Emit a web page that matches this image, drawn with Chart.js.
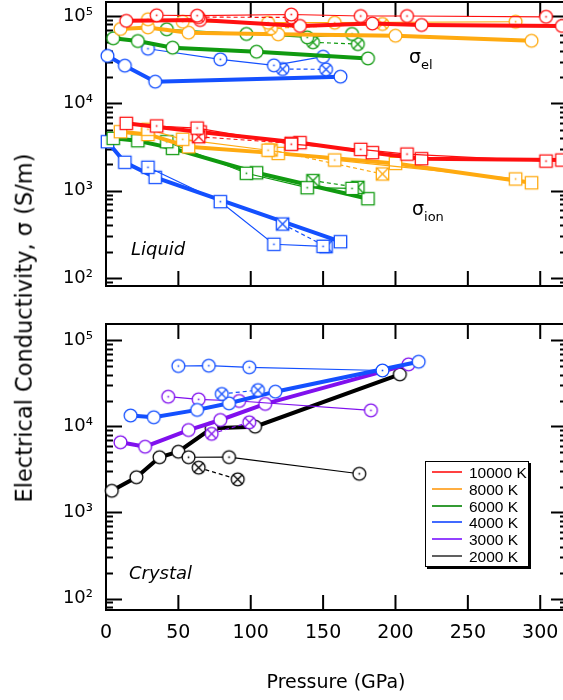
<!DOCTYPE html>
<html lang="en">
<head>
<meta charset="UTF-8" />
<title>Electrical Conductivity vs Pressure</title>
<script src="https://cdn.jsdelivr.net/npm/chart.js"></script>
<style>
  html, body { margin: 0; padding: 0; background: #fff; overflow: hidden; }
  body { width: 563px; height: 700px; position: relative; font-family: "DejaVu Sans", sans-serif; color: #000; }
  canvas { position: absolute; left: 0; }
  #liquidChart { top: 0; }
  #crystalChart { top: 300px; }
  .txt { position: absolute; white-space: nowrap; line-height: 1; }
  .sub { position: relative; top: 5.5px; font-size: 13px; }
  #ytitle { left: 24px; top: 328px; font-size: 22.5px; transform: translate(-50%, -50%) rotate(-90deg); }
  #xtitle { left: 336px; top: 672px; font-size: 19px; transform: translateX(-50%); }
  .panel { font-size: 18px; font-style: italic; }
  #legend { position: absolute; left: 425px; top: 461px; width: 102px; height: 104px; border: 1.5px solid #000; box-shadow: 2px 2px 0 #000; background: #fff; }
  #legend .row { position: absolute; left: 0; width: 100%; height: 16px; line-height: 16px; font: 15.5px "Liberation Sans", sans-serif; white-space: nowrap; }
  #legend .row i { position: absolute; left: 6px; top: 7px; width: 30px; height: 2px; opacity: 0.85; }
  #legend .row span { position: absolute; left: 43px; }
</style>
</head>
<body>

<canvas id="liquidChart" width="575" height="300"></canvas>
<canvas id="crystalChart" width="575" height="400"></canvas>

<div class="txt" id="ytitle">Electrical Conductivity, σ (S/m)</div>
<div class="txt" id="xtitle">Pressure (GPa)</div>
<div class="txt panel" style="left:131px; top:239.5px;">Liquid</div>
<div class="txt panel" style="left:129px; top:564px;">Crystal</div>
<div class="txt" style="left:409px; top:47px; font-size:19px;">σ<span class="sub">el</span></div>
<div class="txt" style="left:412px; top:199px; font-size:19px;">σ<span class="sub">ion</span></div>
<div id="legend"></div>

<script>
// axis ticks
const pressureTicks = [0, 50, 100, 150, 200, 250, 300];
const decadeTicks = [100, 1000, 10000, 100000];
const minorSteps = [2, 3, 4, 5, 6, 7, 8, 9];

const temps = ['10000 K', '8000 K', '6000 K', '4000 K', '3000 K', '2000 K'];
const tempColors = ['#ff1010', '#ffaa10', '#109a10', '#1450ff', '#8010ee', '#000000'];
const legendColors = ['#ff2020', '#ffa020', '#108a10', '#2050ff', '#8020ff', '#444444'];

// ---- liquid: electronic (el) and ionic (ion) conductivity, S/m ----
// 10000 K
const liq10kThickP = [14, 65, 134, 184, 218, 315];
const liq10kThickEl = [88000, 90000, 77000, 82000, 79000, 77000];
const liq10kThickIon = [5900, 4700, 3540, 2720, 2320, 2240];
const liq10kThinP = [35, 63, 128, 176, 208, 304];
const liq10kThinEl = [102000, 101000, 104000, 100000, 100000, 98000];
const liq10kThinIon = [5500, 5200, 3400, 2970, 2620, 2180];
const liq10kDashP = [64, 128];
const liq10kDashEl = [97000, 96500];
const liq10kDashIon = [4140, 3480];
// 8000 K
const liq8kThickP = [10, 29, 57, 119, 200, 294];
const liq8kThickEl = [71000, 74000, 64500, 61700, 59500, 52000];
const liq8kThickIon = [4730, 4400, 3180, 2670, 2050, 1230];
const liq8kThinP = [29, 53, 112, 158, 283];
const liq8kThinEl = [91700, 86000, 83800, 83800, 86000];
const liq8kThinIon = [5040, 3870, 2900, 2240, 1360];
const liq8kDashP = [114, 191];
const liq8kDashEl = [72300, 81000];
const liq8kDashIon = [2920, 1550];
// 6000 K
const liq6kThickP = [5, 22, 46, 104, 181];
const liq6kThickEl = [55600, 51700, 43400, 39000, 32700];
const liq6kThickIon = [3970, 3730, 3050, 1600, 807];
const liq6kThinP = [42, 97, 139, 170];
const liq6kThinEl = [70500, 62300, 57000, 62300];
const liq6kThinIon = [3630, 1580, 1080, 1060];
const liq6kDashP = [143, 174];
const liq6kDashEl = [50000, 47700];
const liq6kDashIon = [1300, 1090];
// 4000 K
const liq4kThickP = [1, 13, 34, 162];
const liq4kThickEl = [35000, 27000, 17700, 20200];
const liq4kThickIon = [3630, 2110, 1420, 260];
const liq4kThinP = [29, 79, 116, 150];
const liq4kThinEl = [42200, 31900, 27200, 34200];
const liq4kThinIon = [1850, 747, 243, 230];
const liq4kDashP = [122, 152];
const liq4kDashEl = [24700, 24500];
const liq4kDashIon = [414, 228];

// ---- crystal: total conductivity, S/m ----
const cry4kThickP = [17, 33, 63, 85, 117, 216];
const cry4kThick = [13400, 12800, 15600, 18600, 25400, 56600];
const cry4kThinP = [50, 71, 99, 191];
const cry4kThin = [50500, 50900, 48800, 44800];
const cry4kDashP = [80, 105];
const cry4kDash = [23900, 26500];
const cry3kThickP = [10, 27, 57, 79, 110, 209];
const cry3kThick = [6550, 5820, 9100, 11900, 18300, 52800];
const cry3kThinP = [43, 64, 92, 183];
const cry3kThin = [22200, 20700, 19800, 15400];
const cry3kDashP = [73, 99];
const cry3kDash = [8220, 11200];
const cry2kThickP = [4, 21, 37, 50, 73, 103, 203];
const cry2kThick = [1790, 2570, 4390, 5090, 9520, 9950, 40400];
const cry2kThinP = [57, 85, 175];
const cry2kThin = [4390, 4400, 2820];
const cry2kDashP = [64, 91];
const cry2kDash = [3320, 2430];

const supDigits = { 2: '\u00b2', 3: '\u00b3', 4: '\u2074', 5: '\u2075' };

// open markers: plain (thick runs), centre dot (thin runs), cross (dashed runs)
function makeMarker(shape, color, kind) {
  const s = 17, c = s / 2;
  const cv = document.createElement('canvas');
  cv.width = s; cv.height = s;
  const g = cv.getContext('2d');
  g.lineWidth = 1.3;
  g.strokeStyle = color;
  g.fillStyle = '#fff';
  g.beginPath();
  if (shape === 'circle') g.arc(c, c, 6.4, 0, Math.PI * 2);
  else g.rect(c - 6.2, c - 6.2, 12.4, 12.4);
  g.fill();
  g.stroke();
  if (kind === 'thin') {
    g.fillStyle = color;
    g.fillRect(c - 0.8, c - 0.8, 1.6, 1.6);
  }
  if (kind === 'dash') {
    const r = shape === 'circle' ? 4.5 : 6.2;
    g.beginPath();
    g.moveTo(c - r, c - r); g.lineTo(c + r, c + r);
    g.moveTo(c + r, c - r); g.lineTo(c - r, c + r);
    g.stroke();
  }
  return cv;
}

function series(xs, ys, tempIdx, kind, shape) {
  const color = tempColors[tempIdx];
  return {
    label: temps[tempIdx],
    data: xs.map((x, i) => ({ x: x, y: ys[i] })),
    borderColor: color,
    borderWidth: kind === 'thick' ? 4 : 1.2,
    borderDash: kind === 'dash' ? [4, 3] : [],
    pointStyle: makeMarker(shape, color, kind),
    pointRadius: 7,
    pointHoverRadius: 7,
    tension: 0,
    fill: false,
    clip: false
  };
}

const liquidRuns = [
  [0, 'thin', liq10kThinP, liq10kThinEl, liq10kThinIon],
  [0, 'dash', liq10kDashP, liq10kDashEl, liq10kDashIon],
  [0, 'thick', liq10kThickP, liq10kThickEl, liq10kThickIon],
  [1, 'thin', liq8kThinP, liq8kThinEl, liq8kThinIon],
  [1, 'dash', liq8kDashP, liq8kDashEl, liq8kDashIon],
  [1, 'thick', liq8kThickP, liq8kThickEl, liq8kThickIon],
  [2, 'thin', liq6kThinP, liq6kThinEl, liq6kThinIon],
  [2, 'dash', liq6kDashP, liq6kDashEl, liq6kDashIon],
  [2, 'thick', liq6kThickP, liq6kThickEl, liq6kThickIon],
  [3, 'thin', liq4kThinP, liq4kThinEl, liq4kThinIon],
  [3, 'dash', liq4kDashP, liq4kDashEl, liq4kDashIon],
  [3, 'thick', liq4kThickP, liq4kThickEl, liq4kThickIon]
];
const liquidSets = [];
liquidRuns.forEach(([t, kind, p, el, ion]) => {
  liquidSets.push(series(p, el, t, kind, 'circle'));
  liquidSets.push(series(p, ion, t, kind, 'square'));
});

const crystalSets = [
  series(cry4kThinP, cry4kThin, 3, 'thin', 'circle'),
  series(cry4kDashP, cry4kDash, 3, 'dash', 'circle'),
  series(cry4kThickP, cry4kThick, 3, 'thick', 'circle'),
  series(cry3kThinP, cry3kThin, 4, 'thin', 'circle'),
  series(cry3kDashP, cry3kDash, 4, 'dash', 'circle'),
  series(cry3kThickP, cry3kThick, 4, 'thick', 'circle'),
  series(cry2kThinP, cry2kThin, 5, 'thin', 'circle'),
  series(cry2kDashP, cry2kDash, 5, 'dash', 'circle'),
  series(cry2kThickP, cry2kThick, 5, 'thick', 'circle')
];

function isDecade(v) {
  return decadeTicks.includes(v);
}

// box frame with inward ticks on all four sides
const frameTicks = {
  id: 'frameTicks',
  beforeDatasetsDraw(chart) {
    const { ctx, chartArea: a, scales: { x, y } } = chart;
    ctx.save();
    ctx.strokeStyle = '#000';
    ctx.lineWidth = 2;
    ctx.beginPath();
    pressureTicks.forEach(p => {
      if (p <= x.min || p >= x.max) return;
      const px = x.getPixelForValue(p);
      ctx.moveTo(px, a.bottom); ctx.lineTo(px, a.bottom - 15);
      ctx.moveTo(px, a.top); ctx.lineTo(px, a.top + 15);
    });
    y.ticks.forEach(t => {
      const len = isDecade(t.value) ? 16 : 7;
      const py = Math.round(y.getPixelForValue(t.value)) + 0.5;
      ctx.moveTo(a.left, py); ctx.lineTo(a.left + len, py);
      ctx.moveTo(a.right, py); ctx.lineTo(a.right - len, py);
    });
    ctx.stroke();
    ctx.strokeRect(a.left, a.top, a.right - a.left, a.bottom - a.top);
    ctx.restore();
  }
};

function buildChart(id, datasets, yMin, yMax, padding, showX) {
  return new Chart(document.getElementById(id), {
    type: 'line',
    data: { datasets: datasets },
    options: {
      responsive: false,
      animation: false,
      layout: { padding: padding, autoPadding: false },
      plugins: { legend: { display: false }, tooltip: { enabled: false } },
      scales: {
        x: {
          type: 'linear',
          min: 0,
          max: 318.5,
          display: showX,
          grid: { display: false, drawTicks: false },
          border: { display: false },
          afterBuildTicks: s => { s.ticks = pressureTicks.map(v => ({ value: v })); },
          afterFit: s => { s.height = showX ? 90 : 0; s.paddingLeft = 0; s.paddingRight = 0; },
          ticks: {
            autoSkip: false,
            maxRotation: 0,
            padding: 12,
            color: '#000',
            font: { family: 'DejaVu Sans', size: 19 }
          }
        },
        y: {
          type: 'logarithmic',
          min: yMin,
          max: yMax,
          grid: { display: false, drawTicks: false },
          border: { display: false },
          afterBuildTicks: s => {
            const vals = [];
            for (let n = 1; n <= 5; n++) {
              const base = Math.pow(10, n);
              vals.push(base);
              minorSteps.forEach(m => vals.push(m * base));
            }
            s.ticks = vals.filter(v => v >= s.min && v <= s.max).map(v => ({ value: v }));
          },
          afterFit: s => { s.width = 106; s.paddingTop = 0; s.paddingBottom = 0; },
          ticks: {
            autoSkip: false,
            padding: 13,
            color: '#000',
            font: { family: 'DejaVu Sans', size: 18 },
            callback: v => isDecade(v) ? '10' + supDigits[Math.round(Math.log10(v))] : ''
          }
        }
      }
    },
    plugins: [frameTicks]
  });
}

buildChart('liquidChart', liquidSets, 80.8, 144700, { top: 2, right: 8, bottom: 14, left: 0 }, false);
buildChart('crystalChart', crystalSets, 73.5, 155500, { top: 24, right: 8, bottom: 0, left: 0 }, true);

// legend box
const legend = document.getElementById('legend');
temps.forEach((t, i) => {
  const row = document.createElement('div');
  row.className = 'row';
  row.style.top = Math.round(2 + i * 16.75) + 'px';
  row.innerHTML = '<i style="background:' + legendColors[i] + '"></i><span>' + t + '</span>';
  legend.appendChild(row);
});
</script>
</body>
</html>
